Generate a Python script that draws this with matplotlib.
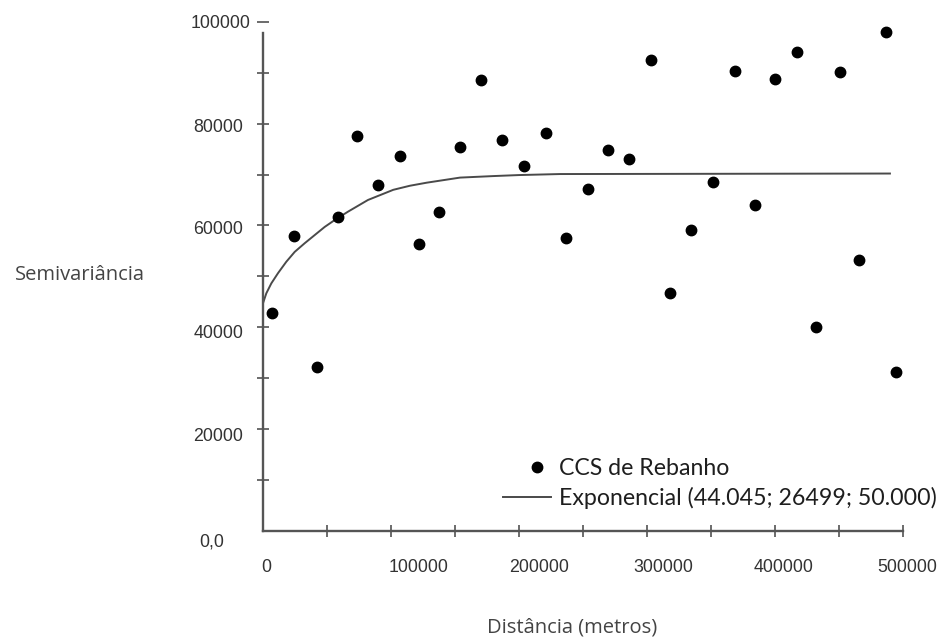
import numpy as np
import matplotlib
matplotlib.use('Agg')
import matplotlib.pyplot as plt
from matplotlib.transforms import offset_copy
from matplotlib.legend_handler import HandlerLine2D

# dados do semivariograma
distancia = [7300, 24500, 42000, 58400, 73400, 90100, 107300, 121600, 137500, 154100,
             170200, 187000, 203700, 221300, 237000, 254100, 269800, 285700, 303100, 318000,
             334000, 351300, 368800, 384100, 400000, 417200, 432000, 451000, 465600, 486500,
             494800]
semivariancia = [42700, 58000, 32100, 61600, 77500, 67900, 73700, 56300, 62600, 75400,
                 88500, 76800, 71700, 78200, 57500, 67200, 74900, 73100, 92500, 46700,
                 59000, 68500, 90400, 64000, 88800, 94100, 40100, 90100, 53100, 98100,
                 31100]

# modelo exponencial ajustado
curva_dist = [0, 2600, 6500, 11700, 18200, 24800, 32600, 40400, 48200, 56000,
              66400, 82000, 101800, 114800, 127900, 140900, 153900, 179900, 200000,
              232000, 489800]
curva_semiv = [44700, 46650, 48600, 50600, 52850, 54800, 56500, 58100, 59700, 61050,
               62700, 65000, 67000, 67800, 68400, 68900, 69400, 69700, 69900,
               70100, 70200]

x_ticks = [0, 100000, 200000, 300000, 400000, 500000]
x_tick_labels = ['0', '100000', '200000', '300000', '400000', '500000']
y_ticks = [0, 20000, 40000, 60000, 80000, 100000]
y_tick_labels = ['0,0', '20000', '40000', '60000', '80000', '100000']

# deslocamentos dos rótulos (pixels), como na figura original
x_lab_dx = [3, 28, 20, 16, 9, 4]
y_lab_dx = [-39, -20, -20, -20, -20, -12]
y_lab_dy = [-11.5, -8, -6, -4.5, -3.5, -1]


class PontoDireita(HandlerLine2D):
    """marcador deslocado para a direita, como no gráfico original"""
    def get_xdata(self, legend, xdescent, ydescent, width, height, fontsize):
        x = -xdescent + width * 0.72
        return [x], [x]


fig = plt.figure(figsize=(9.43, 6.38), dpi=100)
ax = fig.add_axes([263 / 943, 1 - 530.5 / 638, 640 / 943, 508.5 / 638])

ax.plot(distancia, semivariancia, 'o', color='black', ms=7.5, mec='black',
        label='CCS de Rebanho', zorder=3)
ax.plot(curva_dist, curva_semiv, '-', color='#4a4a4a', lw=1.4,
        label='Exponencial (44.045; 26499; 50.000)', zorder=2)

ax.set_xlim(0, 500000)
ax.set_ylim(0, 100000)

for s in ['top', 'right']:
    ax.spines[s].set_visible(False)
for s in ['left', 'bottom']:
    ax.spines[s].set_color('#555555')
    ax.spines[s].set_linewidth(1.7)
ax.spines['left'].set_bounds(0, 97800)

ax.set_xticks(np.arange(50000, 500001, 50000))
ax.set_yticks(np.arange(10000, 100001, 10000))
ax.tick_params(direction='inout', length=9, width=1.1, color='#444444',
               labelleft=False, labelbottom=False)

tick_font = dict(family=['Liberation Sans', 'DejaVu Sans'], size=12.8, color='#333333')
for val, lab, dx in zip(x_ticks, x_tick_labels, x_lab_dx):
    tr = offset_copy(ax.get_xaxis_transform(), fig=fig, x=dx, y=-36.5, units='dots')
    ax.text(val, 0, lab, transform=tr, ha='center', va='center', clip_on=False, **tick_font)
for val, lab, dx, dy in zip(y_ticks, y_tick_labels, y_lab_dx, y_lab_dy):
    tr = offset_copy(ax.get_yaxis_transform(), fig=fig, x=dx, y=dy, units='dots')
    ax.text(0, val, lab, transform=tr, ha='right', va='center', clip_on=False, **tick_font)

label_font = dict(family=['Open Sans', 'DejaVu Sans'], size=14.5, color='#444444')
fig.text(80 / 943, 1 - 275 / 638, 'Semivariância', ha='center', va='center', **label_font)
fig.text(572 / 943, 1 - 628 / 638, 'Distância (metros)', ha='center', va='center', **label_font)

handles, labels = ax.get_legend_handles_labels()
leg = ax.legend(handles, labels, loc='upper left',
                bbox_to_anchor=(503 / 943, 1 - 458 / 638), bbox_transform=fig.transFigure,
                frameon=False, borderpad=0, borderaxespad=0, handlelength=2.05,
                handletextpad=0.35, labelspacing=0.33,
                prop={'family': ['Lato', 'DejaVu Sans'], 'size': 16.7},
                handler_map={handles[0]: PontoDireita()})
for t in leg.get_texts():
    t.set_color('#1e1e1e')

plt.savefig('out.png', dpi=100)
